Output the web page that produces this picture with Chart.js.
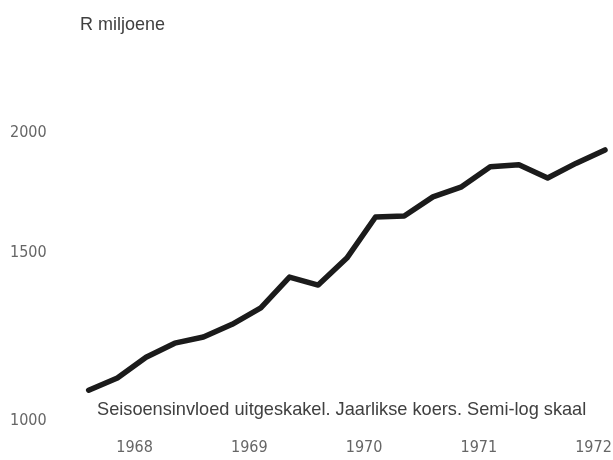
<!DOCTYPE html>
<html>
<head>
<meta charset="utf-8">
<script src="https://cdn.jsdelivr.net/npm/chart.js@4/dist/chart.umd.min.js"></script>
<style>
  html, body { margin: 0; padding: 0; background: #ffffff; }
  #wrap { position: relative; width: 613px; height: 460px; }
</style>
</head>
<body>
<div id="wrap"><canvas id="c" width="613" height="460"></canvas></div>
<script>
// Quarterly values, 1968 Q1 .. 1972 Q3 (R miljoene, seasonally adjusted annual rate)
const quarters = ['1968 K1','1968 K2','1968 K3','1968 K4','1969 K1','1969 K2','1969 K3','1969 K4',
                  '1970 K1','1970 K2','1970 K3','1970 K4','1971 K1','1971 K2','1971 K3','1971 K4',
                  '1972 K1','1972 K2','1972 K3'];
const values = [1077, 1109, 1166, 1206, 1224, 1262, 1313, 1414, 1387, 1480, 1634, 1638,
                1715, 1757, 1844, 1853, 1795, 1860, 1920];
const yearLabels = ['1968', '1969', '1970', '1971', '1972'];
const yTickValues = [1000, 1500, 2000];
const titleText = 'R miljoene';
const noteText = 'Seisoensinvloed uitgeskakel. Jaarlikse koers. Semi-log skaal';

const tickFont = { family: '"Liberation Sans Narrow", "DejaVu Sans Condensed", "Liberation Sans", sans-serif', size: 16 };

function fitFont(ctx, text, width, family) {
  ctx.font = '20px ' + family;
  const w = ctx.measureText(text).width;
  return (20 * width / w).toFixed(2) + 'px ' + family;
}

const textPlugin = {
  id: 'texts',
  afterDraw(chart) {
    const ctx = chart.ctx;
    const area = chart.chartArea;
    const fam = '"Liberation Sans", Arial, sans-serif';
    ctx.save();
    ctx.fillStyle = '#404040';
    ctx.textBaseline = 'middle';
    ctx.textAlign = 'left';
    ctx.font = fitFont(ctx, titleText, 85, fam);
    ctx.fillText(titleText, area.left + 20, 25);
    ctx.font = fitFont(ctx, noteText, 490, fam);
    ctx.fillText(noteText, area.left + 37, 410);
    ctx.restore();
  }
};

new Chart(document.getElementById('c'), {
  type: 'line',
  data: {
    datasets: [{
      label: 'R miljoene',
      data: values.map((v, i) => ({ x: i, y: v })),
      borderColor: '#1b1b1b',
      borderWidth: 5.5,
      pointRadius: 0,
      tension: 0,
      borderCapStyle: 'round',
      borderJoinStyle: 'round',
      clip: false
    }]
  },
  options: {
    responsive: false,
    animation: false,
    layout: { padding: { left: 10, right: 8, top: 133, bottom: 0 } },
    plugins: {
      legend: { display: false },
      title: { display: false },
      tooltip: { enabled: false }
    },
    scales: {
      x: {
        type: 'linear',
        min: -1,
        max: 18,
        grid: { display: false },
        border: { display: false },
        afterBuildTicks(axis) {
          axis.ticks = yearLabels.map((y, k) => ({ value: 1.6 + 4 * k }));
        },
        afterFit(axis) {
          axis.height = 39;
          axis.paddingLeft = 0;
          axis.paddingRight = 0;
        },
        ticks: {
          autoSkip: false,
          maxRotation: 0,
          padding: 9,
          color: '#666666',
          font: tickFont,
          callback: (v, idx) => yearLabels[idx]
        }
      },
      y: {
        type: 'logarithmic',
        min: 1000,
        max: 2000,
        grid: { display: false },
        border: { display: false },
        afterBuildTicks(axis) {
          axis.ticks = yTickValues.map(v => ({ value: v }));
        },
        afterFit(axis) {
          axis.width = 50;
          axis.paddingTop = 0;
          axis.paddingBottom = 0;
        },
        ticks: {
          crossAlign: 'far',
          color: '#666666',
          font: tickFont,
          callback: (v) => String(v)
        }
      }
    }
  },
  plugins: [textPlugin]
});
</script>
</body>
</html>
